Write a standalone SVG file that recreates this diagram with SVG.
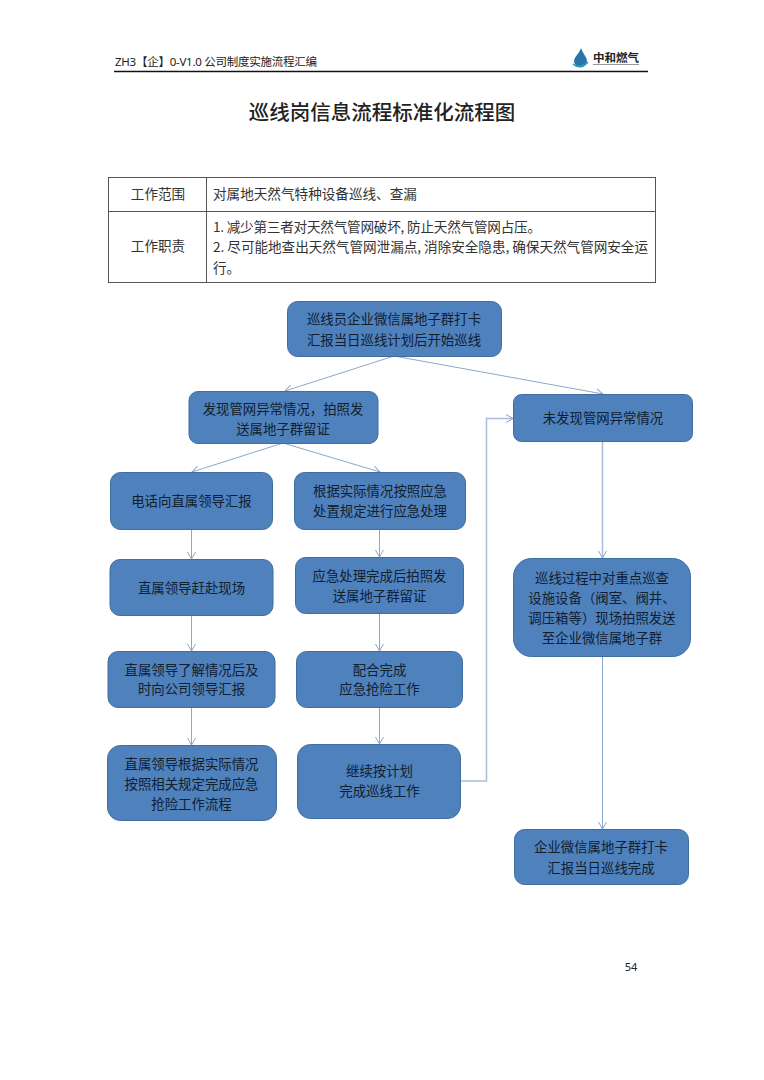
<svg xmlns="http://www.w3.org/2000/svg" width="764" height="1080" viewBox="0 0 764 1080">
<style>
text{font-family:"Noto Sans CJK SC","Liberation Serif",serif;fill:#222;text-spacing-trim:space-all}
.n rect{fill:#4f81bd;stroke:#3f6d9f;stroke-width:1}
.n text{font-size:13.400px;text-anchor:middle;fill:#10202f}
.c path{fill:none;stroke:#8ba8cb;stroke-width:1}
.c .d{stroke:#a9bdd8;stroke-width:1.500}
.t{font-size:13.600px;fill:#333}
.cell{stroke:#555;stroke-width:1;fill:none}
</style>
<defs><marker id="a" markerWidth="12" markerHeight="12" refX="9" refY="5" orient="auto" markerUnits="userSpaceOnUse"><path d="M2 1L9 5L2 9" fill="none" stroke="#8ba8cb" stroke-width="1"/></marker></defs>
<text x="115" y="66" font-size="11.500" textLength="202" style="font-family:'Noto Sans','Noto Sans CJK SC',sans-serif">ZH3【企】0-V1.0 公司制度实施流程汇编</text>
<path d="M114 71.500H648" stroke="#111" stroke-width="1.500"/>
<g id="logo"><path d="M581 48C583 54 587 57 587 61A6.500 6.500 0 0 1 574 61C574 57 579 54 581 48Z" fill="#2b75a8"/><path d="M573 64C577 68 584 67 588 62" fill="none" stroke="#2b9ac8" stroke-width="1.500"/><text x="593" y="62" font-size="11.500" font-weight="700" fill="#222">中和燃气</text><path d="M593 64.500H639" stroke="#999" stroke-width="1"/></g>
<text x="382" y="120" font-size="20.500" font-weight="500" text-anchor="middle" fill="#111">巡线岗信息流程标准化流程图</text>
<g id="table">
<rect class="cell" x="108.500" y="177.500" width="547" height="105"/>
<path class="cell" d="M206.500 177.500V282.500M108.500 211.500H655.500"/>
<text class="t" x="158" y="199" text-anchor="middle">工作范围</text>
<text class="t" x="158" y="251" text-anchor="middle">工作职责</text>
<text class="t" x="213" y="199">对属地天然气特种设备巡线、查漏</text>
<text class="t" x="213" y="232" textLength="328">1. 减少第三者对天然气管网破坏, 防止天然气管网占压。</text>
<text class="t" x="213" y="252" textLength="435">2. 尽可能地查出天然气管网泄漏点, 消除安全隐患, 确保天然气管网安全运</text>
<text class="t" x="213" y="273">行。</text>
</g>
<g class="c" id="connectors">
<path marker-end="url(#a)" d="M394 356L285 391"/>
<path marker-end="url(#a)" d="M394 356L603 394"/>
<path marker-end="url(#a)" d="M283 443L192 472"/>
<path marker-end="url(#a)" d="M283 443L380 472"/>
<path marker-end="url(#a)" d="M191.500 530V559"/>
<path marker-end="url(#a)" d="M379.500 530V557"/>
<path marker-end="url(#a)" d="M191.500 616V651"/>
<path marker-end="url(#a)" d="M379.500 614V651"/>
<path marker-end="url(#a)" d="M191.500 708V745"/>
<path marker-end="url(#a)" d="M379.500 708V744"/>
<path class="d" marker-end="url(#a)" d="M461 781H486.500V418.500H513"/>
<path class="d" marker-end="url(#a)" d="M602.500 442V558"/>
<path marker-end="url(#a)" d="M602.500 657V829"/>
</g>
<g class="n" id="n1"><rect x="287.500" y="301.500" width="214" height="55" rx="10"/><text x="394" y="324">巡线员企业微信属地子群打卡</text><text x="394" y="345">汇报当日巡线计划后开始巡线</text></g>
<g class="n" id="n2"><rect x="189" y="391.500" width="189" height="52" rx="9"/><text x="283" y="414">发现管网异常情况，拍照发</text><text x="283" y="434">送属地子群留证</text></g>
<g class="n" id="n3"><rect x="513.500" y="394.500" width="179" height="47" rx="8"/><text x="603" y="423">未发现管网异常情况</text></g>
<g class="n" id="n4"><rect x="110.500" y="472.500" width="162" height="57" rx="10"/><text x="191.500" y="506">电话向直属领导汇报</text></g>
<g class="n" id="n5"><rect x="294.500" y="472.500" width="171" height="57" rx="10"/><text x="380" y="496">根据实际情况按照应急</text><text x="380" y="516">处置规定进行应急处理</text></g>
<g class="n" id="n6"><rect x="110" y="559.500" width="163" height="56" rx="10"/><text x="191.500" y="593">直属领导赶赴现场</text></g>
<g class="n" id="n7"><rect x="295.500" y="557.500" width="168" height="56" rx="10"/><text x="379.500" y="581">应急处理完成后拍照发</text><text x="379.500" y="601">送属地子群留证</text></g>
<g class="n" id="n8"><rect x="108" y="651.500" width="167" height="56" rx="10"/><text x="191.500" y="675">直属领导了解情况后及</text><text x="191.500" y="694">时向公司领导汇报</text></g>
<g class="n" id="n9"><rect x="296.500" y="651.500" width="166" height="56" rx="10"/><text x="379.500" y="675">配合完成</text><text x="379.500" y="694">应急抢险工作</text></g>
<g class="n" id="n10"><rect x="107.500" y="745.500" width="169" height="75" rx="13"/><text x="191.500" y="769">直属领导根据实际情况</text><text x="191.500" y="789">按照相关规定完成应急</text><text x="191.500" y="809">抢险工作流程</text></g>
<g class="n" id="n11"><rect x="297.500" y="744.500" width="163" height="74" rx="13"/><text x="379.500" y="776">继续按计划</text><text x="379.500" y="796">完成巡线工作</text></g>
<g class="n" id="n12"><rect x="513.500" y="558.500" width="177" height="98" rx="18"/><text x="602" y="583">巡线过程中对重点巡查</text><text x="602" y="603">设施设备（阀室、阀井、</text><text x="602" y="623">调压箱等）现场拍照发送</text><text x="602" y="643">至企业微信属地子群</text></g>
<g class="n" id="n13"><rect x="514.500" y="829.500" width="174" height="55" rx="10"/><text x="601" y="852">企业微信属地子群打卡</text><text x="601" y="873">汇报当日巡线完成</text></g>
<text x="631" y="971" font-size="11" text-anchor="middle" style="font-family:'Noto Sans',sans-serif">54</text>
</svg>
